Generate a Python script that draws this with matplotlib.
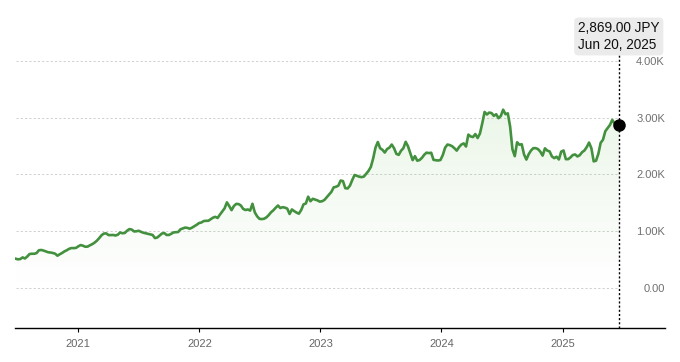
import matplotlib
matplotlib.use("Agg")
import matplotlib.pyplot as plt
import matplotlib.dates as mdates
import numpy as np
import pandas as pd

plt.rcParams['font.family'] = ['Liberation Sans', 'DejaVu Sans']

# ---- data (weekly closes, JPY) ----
end_date = "2025-06-20"
prices = [
    511, 500, 505, 534, 515, 550, 594, 599, 598, 610,
    660, 665, 655, 640, 625, 620, 612, 600, 564, 590,
    612, 640, 660, 685, 699, 698, 702, 730, 752, 740,
    722, 725, 748, 768, 795, 830, 875, 925, 955, 958,
    928, 928, 930, 920, 935, 974, 960, 965, 1005, 1034,
    1025, 992, 995, 1004, 985, 970, 960, 950, 942, 930,
    875, 885, 920, 955, 965, 930, 930, 950, 975, 978,
    982, 1030, 1045, 1060, 1055, 1040, 1060, 1085, 1110, 1140,
    1150, 1175, 1180, 1180, 1208, 1235, 1250, 1230, 1290, 1345,
    1400, 1505, 1440, 1368, 1440, 1478, 1475, 1450, 1390, 1370,
    1380, 1360, 1480, 1330, 1260, 1215, 1210, 1216, 1240, 1280,
    1330, 1365, 1410, 1450, 1405, 1420, 1412, 1395, 1300, 1380,
    1350, 1325, 1305, 1370, 1470, 1485, 1605, 1525, 1568, 1555,
    1540, 1518, 1525, 1548, 1595, 1640, 1690, 1770, 1780, 1800,
    1890, 1880, 1755, 1750, 1800, 1900, 1988, 1973, 1958, 1950,
    1960, 2010, 2060, 2130, 2280, 2470, 2570, 2460, 2432, 2384,
    2446, 2470, 2525, 2461, 2360, 2343, 2415, 2460, 2573, 2495,
    2370, 2250, 2320, 2240, 2252, 2290, 2345, 2382, 2374, 2380,
    2255, 2248, 2243, 2253, 2340, 2470, 2525, 2515, 2496, 2460,
    2418, 2480, 2525, 2545, 2490, 2700, 2668, 2657, 2710, 2640,
    2720, 2900, 3100, 3055, 3089, 3080, 3030, 3060, 2990, 3030,
    3140, 3060, 3075, 2842, 2440, 2320, 2565, 2522, 2530, 2350,
    2260, 2355, 2420, 2461, 2461, 2445, 2400, 2330, 2458, 2418,
    2404, 2315, 2285, 2310, 2262, 2400, 2420, 2267, 2267, 2298,
    2340, 2350, 2315, 2338, 2390, 2420, 2480, 2560, 2460, 2228,
    2240, 2360, 2555, 2610, 2760, 2814, 2870, 2960, 2895, 2925,
    2869,
]
ytick_values = [0, 1000, 2000, 3000, 4000]
ytick_labels = ["0.00", "1.00K", "2.00K", "3.00K", "4.00K"]
last_label = "2,869.00 JPY\nJun 20, 2025"

dates = pd.date_range(end=end_date, periods=len(prices), freq="7D")
xd = mdates.date2num(dates.to_pydatetime())
prices = np.array(prices, dtype=float)

W, H = 680, 362
fig = plt.figure(figsize=(W / 100, H / 100), dpi=100)
ax = fig.add_axes([15 / W, (H - 328) / H, 650 / W, (328 - 10) / H])

ymin, ymax = -711, 4898
xlo = mdates.date2num(pd.Timestamp("2020-06-24"))
xhi = mdates.date2num(pd.Timestamp("2025-11-05"))

line_color = "#43913f"

# gradient fill under line
poly = ax.fill_between(xd, prices, ymin, color="none", lw=0)
rgba = np.zeros((256, 1, 4))
rgba[..., 0] = 0.45
rgba[..., 1] = 0.75
rgba[..., 2] = 0.35
ys = np.linspace(ymin, 3200, 256)
alpha = np.clip(ys / 3200, 0, 1) * 0.14
rgba[..., 3] = alpha.reshape(-1, 1)
im = ax.imshow(rgba, extent=[xd[0], xd[-1], ymin, 3200], origin="lower",
               aspect="auto", zorder=1, interpolation="bilinear")
im.set_clip_path(poly.get_paths()[0], transform=ax.transData)
ax.set_xlim(xlo, xhi)
ax.set_ylim(ymin, ymax)

# grid lines up to last date
ax.hlines(ytick_values, xd[0], xd[-1], colors="#cfcfcf",
          linestyles=(0, (2.2, 2.2)), lw=0.7, zorder=0.5)

ax.plot(xd, prices, color=line_color, lw=1.9, zorder=3, solid_joinstyle="round")

# vertical marker line
ax.vlines(xd[-1], ymin, 4140, colors="black", linestyles=(0, (1.5, 1.5)), lw=1.0, zorder=4)
ax.plot(xd[-1], prices[-1], "o", color="black", ms=8, zorder=5)

# axes styling
for s in ["left", "right", "top"]:
    ax.spines[s].set_visible(False)
ax.spines["bottom"].set_color("black")
ax.spines["bottom"].set_linewidth(1.0)

ax.xaxis.set_major_locator(mdates.YearLocator())
ax.xaxis.set_major_formatter(mdates.DateFormatter("%Y"))
ax.tick_params(axis="x", length=3, width=0.8, color="black", labelsize=8,
               labelcolor="#666666", pad=5)

ax.yaxis.tick_right()
ax.set_yticks(ytick_values)
ax.set_yticklabels(ytick_labels)
ax.tick_params(axis="y", length=0, pad=0, labelsize=8, labelcolor="#707070")
for lbl in ax.get_yticklabels():
    lbl.set_horizontalalignment("right")

fig.text(578 / W, 1 - 36.5 / H, last_label, fontsize=9.8, color="#111111",
         ha="left", va="center", linespacing=1.2,
         bbox=dict(boxstyle="round,pad=0.28,rounding_size=0.3",
                   facecolor="#ebebeb", edgecolor="none"))

fig.savefig("out.png", dpi=100)
